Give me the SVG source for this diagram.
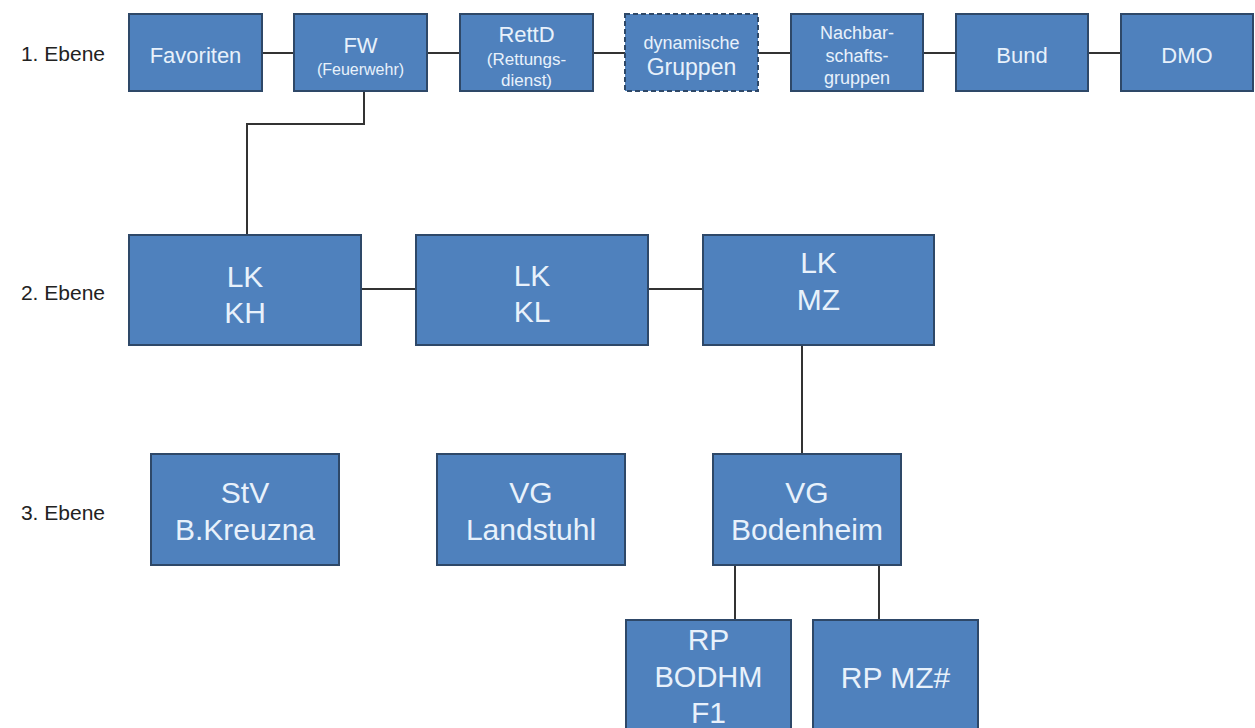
<svg xmlns="http://www.w3.org/2000/svg" width="1255" height="728" viewBox="0 0 1255 728">
<style>
.box{fill:#4f81bd;stroke:#2e4868;stroke-width:2}
.dash{stroke-dasharray:5 3}
.t{font-family:"Liberation Sans",Arial,sans-serif;fill:#e8f1fb;text-anchor:middle}
.lbl{font-family:"Liberation Sans",Arial,sans-serif;fill:#222;font-size:21px;text-anchor:end}
.c{stroke:#333;stroke-width:2;fill:none}
</style>
<rect width="1255" height="728" fill="#ffffff"/>
<g id="labels">
<text class="lbl" x="105" y="61">1. Ebene</text>
<text class="lbl" x="105" y="300">2. Ebene</text>
<text class="lbl" x="105" y="520">3. Ebene</text>
</g>
<g id="connectors">
<line class="c" x1="262" y1="53" x2="294" y2="53"/>
<line class="c" x1="427" y1="53" x2="460" y2="53"/>
<line class="c" x1="593" y1="53" x2="625" y2="53"/>
<line class="c" x1="758" y1="53" x2="791" y2="53"/>
<line class="c" x1="923" y1="53" x2="956" y2="53"/>
<line class="c" x1="1088" y1="53" x2="1121" y2="53"/>
<polyline class="c" points="364,91 364,124 247,124 247,235"/>
<line class="c" x1="361" y1="289" x2="416" y2="289"/>
<line class="c" x1="648" y1="289" x2="703" y2="289"/>
<line class="c" x1="802" y1="345" x2="802" y2="454"/>
<line class="c" x1="735" y1="565" x2="735" y2="620"/>
<line class="c" x1="879" y1="565" x2="879" y2="620"/>
</g>
<g id="favoriten"><rect class="box" x="129" y="14" width="133" height="77"/><text class="t" x="195.5" y="63" font-size="22">Favoriten</text></g>
<g id="fw"><rect class="box" x="294" y="14" width="133" height="77"/><text class="t" x="360.5" y="53" font-size="22">FW</text><text class="t" x="360.5" y="75" font-size="16">(Feuerwehr)</text></g>
<g id="rettd"><rect class="box" x="460" y="14" width="133" height="77"/><text class="t" x="526.5" y="42" font-size="22">RettD</text><text class="t" x="526.5" y="65" font-size="17">(Rettungs-</text><text class="t" x="526.5" y="86" font-size="17">dienst)</text></g>
<g id="dynamisch"><rect class="box dash" x="625" y="14" width="133" height="77"/><text class="t" x="691.5" y="49" font-size="18">dynamische</text><text class="t" x="691.5" y="75" font-size="23">Gruppen</text></g>
<g id="nachbar"><rect class="box" x="791" y="14" width="132" height="77"/><text class="t" x="857" y="39" font-size="18">Nachbar-</text><text class="t" x="857" y="62" font-size="18">schafts-</text><text class="t" x="857" y="84" font-size="18">gruppen</text></g>
<g id="bund"><rect class="box" x="956" y="14" width="132" height="77"/><text class="t" x="1022" y="63" font-size="22">Bund</text></g>
<g id="dmo"><rect class="box" x="1121" y="14" width="132" height="77"/><text class="t" x="1187" y="63" font-size="22">DMO</text></g>
<g id="lkkh"><rect class="box" x="129" y="235" width="232" height="110"/><text class="t" x="245" y="287" font-size="30">LK</text><text class="t" x="245" y="323" font-size="30">KH</text></g>
<g id="lkkl"><rect class="box" x="416" y="235" width="232" height="110"/><text class="t" x="532" y="286" font-size="30">LK</text><text class="t" x="532" y="322" font-size="30">KL</text></g>
<g id="lkmz"><rect class="box" x="703" y="235" width="231" height="110"/><text class="t" x="818.5" y="273" font-size="30">LK</text><text class="t" x="818.5" y="310" font-size="30">MZ</text></g>
<g id="stv"><rect class="box" x="151" y="454" width="188" height="111"/><text class="t" x="245" y="503" font-size="30">StV</text><text class="t" x="245" y="540" font-size="30">B.Kreuzna</text></g>
<g id="landstuhl"><rect class="box" x="437" y="454" width="188" height="111"/><text class="t" x="531" y="503" font-size="30">VG</text><text class="t" x="531" y="540" font-size="30">Landstuhl</text></g>
<g id="bodenheim"><rect class="box" x="713" y="454" width="188" height="111"/><text class="t" x="807" y="503" font-size="30">VG</text><text class="t" x="807" y="540" font-size="30">Bodenheim</text></g>
<g id="rpbodhm"><rect class="box" x="626" y="620" width="165" height="120"/><text class="t" x="708.5" y="650" font-size="30">RP</text><text class="t" x="708.5" y="687" font-size="29">BODHM</text><text class="t" x="708.5" y="723" font-size="30">F1</text></g>
<g id="rpmz"><rect class="box" x="813" y="620" width="165" height="120"/><text class="t" x="895.5" y="688" font-size="30">RP MZ#</text></g>
</svg>
